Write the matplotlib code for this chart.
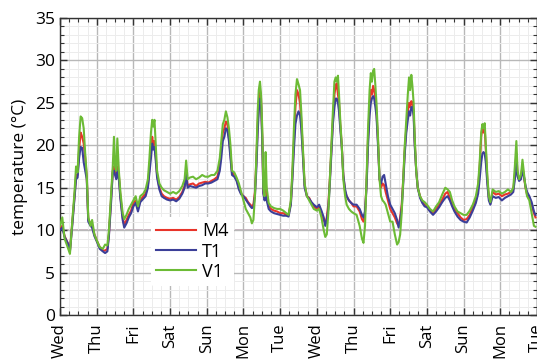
import matplotlib
matplotlib.use("Agg")
import matplotlib.pyplot as plt
from matplotlib.ticker import MultipleLocator

plt.rcParams['font.family'] = ['Open Sans', 'DejaVu Sans']

day_labels = ["Wed", "Thu", "Fri", "Sat", "Sun", "Mon", "Tue",
              "Wed", "Thu", "Fri", "Sat", "Sun", "Mon", "Tue"]

hours = [0, 1.5, 3, 5, 6.5, 8, 9.5, 10.5, 11.5, 12.5, 13.5, 14.5, 15.5, 16.5, 17.5, 18.5, 20, 21, 22.5, 24,
         26, 28, 29.5, 31, 32, 33.5, 34.5, 35.3, 36, 36.8, 37.5, 38.5, 39.5, 41, 42, 43.5, 45, 46.5, 48,
         49.5, 51, 52.5, 54.5, 56, 57.5, 58.5, 59.5, 60.3, 61, 61.8, 62.5, 63.5, 65, 66.5, 68, 70, 72,
         74, 76, 78, 80, 81.5, 82.5, 83.5, 85, 87, 89, 91, 93, 95,
         97, 99, 101, 103, 104.5, 105.5, 106.5, 107.5, 108.5, 109.5, 110.5, 111.5, 112.5, 114, 115.5, 117, 118.5, 120,
         121.5, 123, 124.5, 125.5, 126.5, 127.5, 128.5, 129.3, 130, 130.8, 131.5, 132.3, 133, 133.8, 134.5, 135.2, 136.5, 138, 140, 142, 144,
         146, 148, 149.5, 151, 152, 153, 154, 155, 156, 157, 157.8, 158.8, 160, 161.5, 163, 164.5, 166, 168,
         169.5, 171, 172.5, 173.5, 174.5, 175.5, 176.5, 177.5, 178.5, 179.5, 180.3, 181, 181.8, 182.5, 183.3, 184.3, 185.3, 186.5, 187.5, 189, 190.5, 192,
         194, 196, 197.5, 198.5, 199.5, 200.5, 201.5, 202.5, 203.3, 204, 204.8, 205.5, 206.3, 207, 208, 209, 210, 211, 212, 213, 214.5, 216,
         217.5, 219, 220.5, 221.5, 222.5, 223.5, 224.5, 225.5, 226.5, 227.5, 228.3, 229, 229.8, 230.5, 231.3, 232, 233, 234, 235.5, 237, 238.5, 240,
         242, 244, 246, 248, 250, 252, 253.5, 255, 256.5, 258, 260, 262, 264,
         266, 268, 270, 272, 273.5, 274.5, 275.5, 276.3, 277, 277.8, 278.5, 279.5, 280.5, 281.5, 283, 285, 287,
         289, 291, 293, 295, 296.5, 297.5, 298.5, 299.3, 300.3, 301.5, 302.5, 303.3, 304.5, 305.5, 307, 308.5, 310, 311]

v1 = [10.5, 11.5, 9, 8, 7.2, 11, 14.5, 17.5, 16.8, 21, 23.4, 23.2, 22, 19, 16.5, 11.5, 10.5, 11.2, 9.5, 8.8,
      8.0, 7.8, 8.3, 8.2, 10, 14.5, 17.5, 21, 17.5, 17, 20.8, 17, 14.5, 12, 11.3, 11.8, 12.5, 13, 13.5,
      14, 12.8, 14, 14.3, 14.8, 16, 18.5, 21.5, 23, 22.2, 23, 20.5, 17, 15.5, 15, 14.7, 14.5, 14.3,
      14.5, 14.3, 14.6, 15.2, 16, 18.2, 16, 16.2, 16.3, 16, 16.2, 16.5, 16.3,
      16.3, 16.5, 16.5, 17, 18.5, 20.5, 22.5, 23, 24, 23.3, 22, 20, 17, 16.8, 16.2, 15.5, 14.5, 13.5,
      12.5, 12, 11.5, 10.8, 11.2, 14, 19, 24, 26.5, 27.5, 26, 22, 15, 14, 19.2, 15, 13.2, 12.8, 12.6, 12.5, 12.5,
      12.3, 12, 11.8, 13.5, 17, 22, 26, 27.8, 27.2, 26.5, 24, 20, 15.5, 14, 13.5, 13, 12.5, 12.3,
      12.5, 11.5, 10, 9.2, 9.5, 12, 16, 20, 24, 27.5, 28, 27.5, 28.2, 26, 23, 20, 16, 14, 13, 12.5, 12.2, 12,
      11.8, 10.5, 9, 8.5, 10.5, 16, 22, 26.5, 28.5, 27.5, 28.8, 29, 27, 25, 21, 16, 14, 13.5, 13.3, 13, 12, 11,
      11, 9.5, 8.3, 8.6, 9.5, 12, 16, 20, 23, 26, 28, 26.5, 28.3, 27, 25, 21, 17, 15, 14, 13.5, 13.3, 13,
      12.5, 12.2, 12.8, 13.3, 14.2, 15, 14.8, 14.5, 13.5, 12.8, 12.2, 12, 11.8,
      11.8, 12.3, 13, 14, 15.5, 18, 21.5, 22.5, 22, 22.6, 20, 16.5, 14, 13.3, 14.8, 14.5, 14.6,
      14.3, 14.5, 14.8, 14.5, 15, 17.5, 20.5, 17, 16, 16.5, 18.3, 17, 15, 14, 13.5, 12, 10.5, 10.4]

m4 = [10.2, 10.5, 9.3, 8.5, 7.6, 10.8, 14, 16.5, 16.5, 19.5, 21.5, 21, 20.2, 18.5, 16.3, 11.2, 10.8, 10.5, 9.5, 8.8,
      8.0, 7.6, 7.6, 7.8, 9.5, 14, 17, 17.5, 16.8, 16.3, 17.5, 16.5, 14, 11.5, 10.6, 11.2, 11.8, 12.3, 13.2,
      13.5, 12.5, 13.5, 14, 14.3, 15.3, 17.3, 19.5, 21, 20, 20.5, 19, 16.5, 15, 14.3, 14, 13.8, 13.7,
      13.8, 13.6, 13.9, 14.5, 15.2, 17, 15.2, 15.4, 15.5, 15.2, 15.5, 15.6, 15.7,
      15.6, 15.8, 16, 16.3, 17.5, 19.5, 21.5, 22, 22.8, 22.5, 21, 19, 16.8, 16.5, 16, 15, 14.3, 14,
      13.8, 13.3, 13, 12.8, 13, 14.5, 18.5, 22.5, 25, 26.5, 25.5, 21, 14.5, 13.8, 16, 14, 12.8, 12.5, 12.3, 12.2, 12,
      12, 11.8, 11.8, 13.2, 16.5, 20.5, 24.5, 26.5, 26, 25, 23, 19.5, 15.3, 14, 13.8, 13.2, 12.8, 12.5,
      12.8, 12, 11.2, 10.8, 11.5, 13, 16, 19.5, 23, 26, 27, 27.3, 26, 25, 22.5, 20, 16.5, 14.5, 14, 13.5, 13.2, 12.8,
      12.8, 12.2, 11.3, 11, 12, 15.5, 21, 24.5, 26.5, 26, 27, 26.5, 25.5, 24, 20.5, 16, 15, 15.5, 15.3, 14.5, 13.5, 12.5,
      12, 11.5, 10.8, 10.5, 11.5, 13, 16, 19.5, 22, 24, 25, 24.5, 25.2, 25, 24, 20.5, 17, 15, 14, 13.3, 13, 12.8,
      12.3, 12, 12.5, 13, 13.6, 14.3, 14.5, 13.8, 13, 12.5, 12, 11.5, 11.2,
      11.3, 11.8, 12.7, 13.5, 15, 17.5, 21, 22.3, 21.5, 22, 19.5, 16, 13.8, 13.2, 14.5, 14.2, 14.3,
      14, 14.2, 14.3, 14.5, 14.8, 16.5, 19, 16.5, 16, 16.3, 17.5, 16.5, 15, 14.2, 13.8, 13, 12, 11.5]

t1 = [10.0, 10.3, 9.2, 8.5, 7.5, 10.5, 13.8, 16, 16.2, 18.5, 19.8, 19.7, 18, 17, 16, 11, 10.5, 10.3, 9.3, 8.7,
      7.8, 7.5, 7.3, 7.5, 9.3, 13.5, 16.8, 17, 16.5, 16, 17, 16, 13.7, 11.2, 10.3, 10.8, 11.5, 12, 12.8,
      13.2, 12.2, 13.3, 13.7, 14, 15, 16.8, 18.5, 20.2, 19.5, 19.8, 18.5, 16.2, 14.8, 14, 13.8, 13.6, 13.5,
      13.6, 13.4, 13.7, 14.3, 15, 16.5, 15, 15.2, 15.1, 15, 15.2, 15.3, 15.5,
      15.5, 15.6, 15.8, 16, 17, 18.5, 20.5, 21, 22, 21.8, 20.5, 18.5, 16.5, 16.3, 15.8, 14.8, 14.2, 14,
      13.6, 13.2, 12.8, 12.6, 12.7, 14, 17.5, 21.5, 24, 25.5, 24.8, 20.5, 14.3, 13.5, 14, 13.5, 12.5, 12.2, 12, 11.9, 11.8,
      11.7, 11.7, 11.6, 13, 16, 19.5, 22.5, 23.5, 24, 23.5, 22, 19, 15, 14, 13.7, 13.3, 13, 12.7,
      13, 12.3, 11.5, 10.5, 11.2, 12.5, 15.5, 19, 22.5, 24.5, 25.5, 25.5, 25, 24, 22, 19.8, 16.5, 14.8, 14, 13.5, 13.2, 13,
      13, 12.5, 11.8, 11.5, 12.2, 15, 20, 23.5, 25, 25.5, 25.8, 25.5, 24.5, 23.5, 20, 16, 15.5, 16.3, 16.5, 15.5, 14, 13,
      12.5, 12, 11.2, 10.3, 11.2, 12.5, 15.5, 19, 21.5, 23, 24, 23.5, 24.5, 24.5, 23.5, 20, 17, 15, 13.8, 13.2, 12.8, 12.7,
      12.2, 11.8, 12.2, 12.7, 13.3, 13.8, 14, 13.5, 12.8, 12.2, 11.6, 11.2, 11,
      10.9, 11.5, 12.3, 13.2, 14.3, 16, 18, 19, 19.2, 19, 18, 15.5, 13.5, 13, 14, 13.8, 13.9,
      13.5, 13.8, 14, 14.2, 14.5, 16, 18, 16.3, 15.8, 16, 17, 16.5, 15.2, 14.5, 14, 13.3, 12.2, 11.8]

fig = plt.figure(figsize=(5.37, 3.59), dpi=100)
ax = fig.add_axes([60 / 537, 44 / 359, 477 / 537, 297 / 359])

ax.set_xlim(0, 312)
ax.set_ylim(0, 35)
ax.xaxis.set_major_locator(MultipleLocator(24))
ax.xaxis.set_minor_locator(MultipleLocator(6))
ax.yaxis.set_major_locator(MultipleLocator(5))
ax.yaxis.set_minor_locator(MultipleLocator(1))

ax.grid(which='minor', color='#ececec', linewidth=0.7, zorder=0)
ax.grid(which='major', color='#b8b8b8', linewidth=1.0, zorder=0)
ax.axhline(10, color='#c0a3b4', linewidth=1.1, zorder=1)

ax.plot(hours, m4, color='#e8342a', linewidth=1.5, label='M4', zorder=3)
ax.plot(hours, t1, color='#3c3f98', linewidth=1.5, label='T1', zorder=4)
ax.plot(hours, v1, color='#6cbb35', linewidth=1.5, label='V1', zorder=5)

ax.set_xticks(range(0, 313, 24))
ax.set_xticklabels(day_labels, rotation=90, fontsize=12)
ax.tick_params(axis='y', labelsize=12.5)
ax.tick_params(which='both', direction='in', top=True, right=True, color='#333333')
ax.tick_params(which='major', length=5, width=1)
ax.tick_params(which='minor', length=3, width=0.8)
ax.tick_params(axis='x', pad=6)
for s in ax.spines.values():
    s.set_color('#333333')
    s.set_linewidth(1.0)

ax.set_ylabel('temperature (°C)', fontsize=12.5, labelpad=5)

leg = ax.legend(loc='upper left', bbox_to_anchor=(0.19, 0.33), frameon=True,
                fontsize=13, handlelength=2.2, handletextpad=0.35,
                labelspacing=0.12, borderpad=0.3, borderaxespad=0)
leg.get_frame().set_facecolor('white')
leg.get_frame().set_edgecolor('none')
leg.get_frame().set_alpha(1.0)
leg.set_zorder(6)

fig.savefig('out.png', dpi=100)
